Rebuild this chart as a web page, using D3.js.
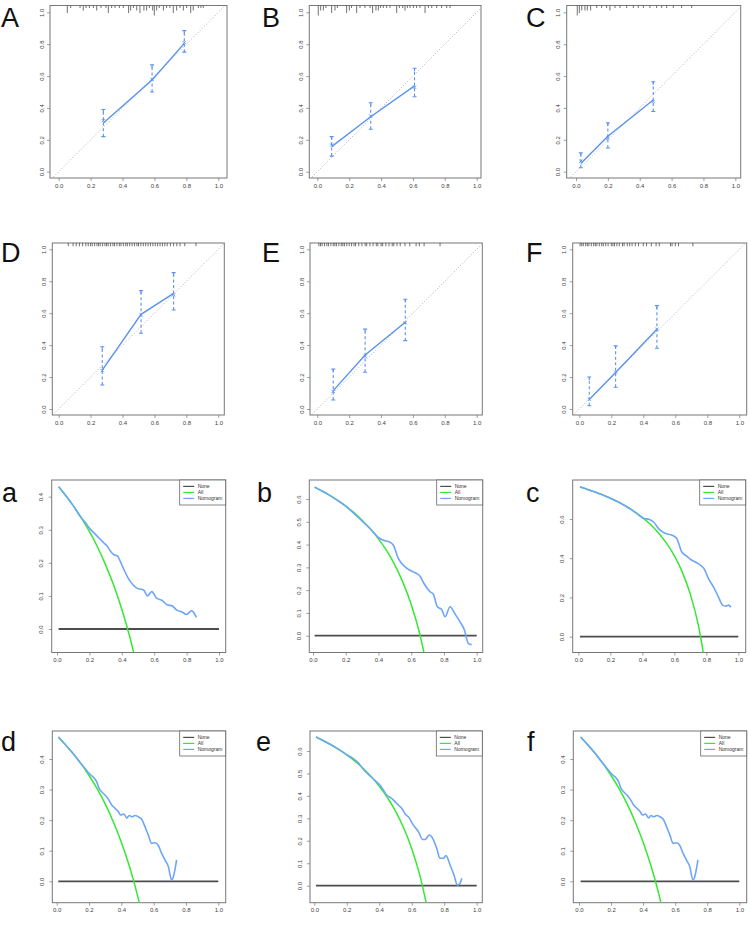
<!DOCTYPE html>
<html>
<head>
<meta charset="utf-8">
<script src="https://cdn.jsdelivr.net/npm/d3@7/dist/d3.min.js"></script>
<style>
body { margin: 0; background: #fff; }
svg { display: block; }
</style>
</head>
<body>
<svg id="chart" width="750" height="930"></svg>
<script>
// ---- tick labels ----
const xTicks = [0, 0.2, 0.4, 0.6, 0.8, 1.0];
const calTicks = [0, 0.2, 0.4, 0.6, 0.8, 1.0];
const dcaTicks4 = [0, 0.1, 0.2, 0.3, 0.4];
const dcaTicks6 = [0, 0.1, 0.2, 0.3, 0.4, 0.5, 0.6];
const dcaTicksC = [0, 0.2, 0.4, 0.6];
const legendLabels = ["None", "All", "Nomogram"];

// ---- calibration groups: [predicted, observed, bias-corrected, lower CI, upper CI] ----
const calA = [[0.28, 0.305, 0.32, 0.22, 0.39], [0.585, 0.575, 0.58, 0.50, 0.67], [0.787, 0.805, 0.81, 0.75, 0.885]];
const calB = [[0.09, 0.157, 0.167, 0.098, 0.22], [0.335, 0.345, 0.35, 0.266, 0.433], [0.61, 0.538, 0.53, 0.47, 0.649]];
const calC = [[0.03, 0.052, 0.066, 0.025, 0.118], [0.20, 0.222, 0.21, 0.149, 0.307], [0.485, 0.45, 0.44, 0.378, 0.564]];
const calD = [[0.273, 0.244, 0.24, 0.15, 0.39], [0.516, 0.593, 0.59, 0.474, 0.741], [0.72, 0.724, 0.715, 0.62, 0.854]];
const calE = [[0.10, 0.115, 0.11, 0.056, 0.25], [0.30, 0.338, 0.33, 0.23, 0.50], [0.552, 0.543, 0.54, 0.428, 0.687]];
const calF = [[0.0625, 0.06, 0.06, 0.02, 0.20], [0.227, 0.228, 0.23, 0.136, 0.395], [0.485, 0.499, 0.50, 0.38, 0.647]];

// ---- rug of predicted probabilities: [x, count] ----
const rugA = [[0.054,3],[0.075,1],[0.134,1],[0.154,2],[0.171,1],[0.192,1],[0.217,1],[0.238,2],[0.265,1],[0.296,1],
  [0.311,3],[0.332,1],[0.353,1],[0.38,1],[0.405,1],[0.438,3],[0.451,2],[0.468,1],[0.489,2],[0.509,3],[0.534,2],
  [0.551,2],[0.568,1],[0.589,2],[0.599,4],[0.614,2],[0.63,1],[0.656,2],[0.676,1],[0.697,1],[0.718,3],[0.739,2],
  [0.76,1],[0.781,2],[0.802,1],[0.827,3],[0.843,2],[0.875,1],[0.891,1],[0.906,1]];
const rugB = [[0.006,4],[0.021,2],[0.038,2],[0.054,1],[0.09,3],[0.111,2],[0.126,1],[0.184,3],[0.201,2],[0.215,1],
  [0.247,3],[0.268,1],[0.299,1],[0.331,1],[0.347,3],[0.368,2],[0.383,2],[0.397,1],[0.414,1],[0.435,1],[0.456,1],
  [0.498,3],[0.515,1],[0.536,1],[0.55,2],[0.565,1],[0.582,1],[0.603,1],[0.623,1],[0.644,1],[0.676,3],[0.697,1],
  [0.718,1],[0.749,1],[0.78,1],[0.812,1],[0.833,1]];
const rugC = [[0.008,4],[0.021,3],[0.036,2],[0.056,2],[0.071,2],[0.092,2],[0.13,1],[0.161,1],[0.192,1],[0.213,2],
  [0.245,1],[0.276,1],[0.318,1],[0.36,1],[0.391,1],[0.423,1],[0.464,1],[0.506,1],[0.538,1],[0.569,1],[0.611,1],
  [0.663,1],[0.726,1]];
const rugD = [0.06,0.09,0.11,0.13,0.15,0.17,0.185,0.2,0.21,0.225,0.24,0.25,0.26,0.275,0.29,0.3,0.31,0.325,0.34,0.35,
  0.365,0.38,0.39,0.405,0.42,0.43,0.445,0.46,0.475,0.49,0.5,0.515,0.53,0.545,0.56,0.575,0.59,0.605,0.62,0.635,0.65,
  0.665,0.68,0.7,0.72,0.74,0.76,0.79,0.86].map(v => [v, 1.3]);
const rugE = [0.01,0.02,0.03,0.045,0.06,0.07,0.085,0.1,0.11,0.12,0.135,0.15,0.16,0.17,0.185,0.2,0.215,0.23,0.24,0.26,
  0.28,0.3,0.31,0.33,0.35,0.37,0.38,0.4,0.41,0.43,0.45,0.47,0.48,0.5,0.52,0.55,0.58,0.62,0.64,0.67,0.77].map(v => [v, 1.3]);
const rugF = [0.005,0.015,0.025,0.04,0.05,0.06,0.075,0.09,0.1,0.11,0.125,0.14,0.15,0.165,0.18,0.2,0.21,0.22,0.235,
  0.25,0.27,0.28,0.3,0.315,0.33,0.35,0.37,0.4,0.42,0.45,0.48,0.5,0.57,0.58,0.6,0.62,0.71].map(v => [v, 1.3]);

// ---- decision curves: [threshold, net benefit] ----
const noneLine = [[0.01, 0], [1.0, 0]];

const dcaA_all = [[0.01,0.430],[0.05,0.406],[0.10,0.373],[0.15,0.336],[0.20,0.295],[0.25,0.248],[0.30,0.194],
  [0.35,0.132],[0.40,0.060],[0.45,-0.025],[0.50,-0.128]];
const dcaA_nom = [[0.01,0.430],[0.05,0.406],[0.10,0.373],[0.15,0.336],[0.17,0.325],[0.20,0.305],[0.23,0.29],
  [0.265,0.272],[0.29,0.26],[0.31,0.25],[0.335,0.232],[0.35,0.225],[0.375,0.22],[0.39,0.205],[0.41,0.183],
  [0.44,0.153],[0.47,0.133],[0.50,0.122],[0.535,0.118],[0.558,0.10],[0.585,0.113],[0.615,0.093],[0.65,0.086],
  [0.68,0.073],[0.71,0.07],[0.74,0.057],[0.77,0.052],[0.80,0.044],[0.83,0.055],[0.845,0.049],[0.86,0.035]];

const dcaB_all = [[0.01,0.652],[0.05,0.637],[0.10,0.617],[0.15,0.594],[0.20,0.569],[0.25,0.540],[0.30,0.507],
  [0.35,0.469],[0.40,0.425],[0.45,0.373],[0.50,0.310],[0.55,0.233],[0.60,0.137],[0.65,0.014],[0.70,-0.150]];
const dcaB_nom = [[0.01,0.652],[0.05,0.637],[0.10,0.617],[0.15,0.594],[0.20,0.569],[0.25,0.537],[0.30,0.503],
  [0.358,0.463],[0.399,0.431],[0.43,0.419],[0.47,0.41],[0.491,0.397],[0.521,0.339],[0.562,0.302],[0.613,0.28],
  [0.633,0.273],[0.654,0.261],[0.678,0.229],[0.715,0.193],[0.735,0.182],[0.76,0.127],[0.786,0.115],[0.807,0.083],
  [0.837,0.127],[0.868,0.095],[0.898,0.061],[0.925,0.025],[0.949,-0.034],[0.969,-0.04]];

const dcaC_all = [[0.01,0.763],[0.05,0.753],[0.10,0.739],[0.15,0.724],[0.20,0.706],[0.25,0.687],[0.30,0.664],
  [0.35,0.638],[0.40,0.608],[0.45,0.573],[0.50,0.530],[0.55,0.478],[0.60,0.413],[0.65,0.329],[0.70,0.217],
  [0.75,0.060],[0.80,-0.175]];
const dcaC_nom = [[0.01,0.763],[0.05,0.753],[0.10,0.739],[0.15,0.724],[0.20,0.706],[0.25,0.687],[0.30,0.664],
  [0.35,0.638],[0.41,0.603],[0.444,0.598],[0.469,0.586],[0.506,0.547],[0.542,0.527],[0.583,0.518],[0.615,0.501],
  [0.646,0.433],[0.677,0.411],[0.708,0.391],[0.74,0.377],[0.771,0.36],[0.785,0.348],[0.813,0.297],[0.844,0.255],
  [0.875,0.204],[0.902,0.161],[0.923,0.156],[0.938,0.161],[0.954,0.15]];

const dcaD_all = [[0.01,0.472],[0.05,0.449],[0.10,0.419],[0.15,0.385],[0.20,0.346],[0.25,0.303],[0.30,0.253],
  [0.35,0.195],[0.40,0.128],[0.45,0.049],[0.50,-0.046],[0.55,-0.162]];
const dcaD_nom = [[0.01,0.472],[0.05,0.449],[0.10,0.419],[0.15,0.385],[0.175,0.369],[0.206,0.35],[0.233,0.337],
  [0.247,0.326],[0.262,0.304],[0.278,0.293],[0.299,0.282],[0.32,0.268],[0.34,0.25],[0.361,0.239],[0.381,0.228],
  [0.396,0.217],[0.416,0.22],[0.433,0.207],[0.449,0.215],[0.464,0.211],[0.485,0.215],[0.505,0.211],[0.526,0.203],
  [0.546,0.179],[0.567,0.151],[0.588,0.124],[0.608,0.126],[0.629,0.117],[0.649,0.092],[0.67,0.07],[0.691,0.048],
  [0.711,0.004],[0.722,0.015],[0.742,0.07]];

const dcaE_all = [[0.01,0.663],[0.05,0.648],[0.10,0.629],[0.15,0.607],[0.20,0.583],[0.25,0.555],[0.30,0.523],
  [0.35,0.486],[0.40,0.443],[0.45,0.393],[0.50,0.332],[0.55,0.258],[0.60,0.165],[0.65,0.046],[0.70,-0.113]];
const dcaE_nom = [[0.01,0.663],[0.05,0.648],[0.10,0.629],[0.15,0.607],[0.20,0.583],[0.24,0.566],[0.27,0.548],
  [0.30,0.52],[0.35,0.484],[0.409,0.444],[0.446,0.404],[0.476,0.389],[0.507,0.367],[0.538,0.345],[0.565,0.315],
  [0.579,0.307],[0.61,0.27],[0.641,0.241],[0.667,0.206],[0.682,0.206],[0.708,0.226],[0.723,0.218],[0.754,0.166],
  [0.774,0.122],[0.795,0.122],[0.811,0.134],[0.836,0.092],[0.86,0.048],[0.881,0.003],[0.897,0.01],[0.908,0.033]];

// panel f shows the same curves as panel d
const dcaF_all = dcaD_all;
const dcaF_nom = dcaD_nom;

// ---- layout (pixel boxes, tick pixel positions) ----
const calPanels = [
  { id: "A", data: calA, rug: rugA, l: 50,    r: 227,   t: 5.5, b: 178, x0: 58.7,  x1: 218.3, y0: 171.7, y1: 12.3, lx: 1,   ly: 27 },
  { id: "B", data: calB, rug: rugB, l: 309.3, r: 481,   t: 5.5, b: 178, x0: 317.3, x1: 476.7, y0: 171.7, y1: 12.3, lx: 262, ly: 27 },
  { id: "C", data: calC, rug: rugC, l: 566.7, r: 740.7, t: 5.5, b: 178, x0: 576,   x1: 735.3, y0: 171.7, y1: 12.3, lx: 526, ly: 27 },
  { id: "D", data: calD, rug: rugD, l: 52.3,  r: 224.3, t: 243, b: 415, x0: 58.7,  x1: 218.3, y0: 409,   y1: 249.3, lx: 1,  ly: 262 },
  { id: "E", data: calE, rug: rugE, l: 310,   r: 482.3, t: 243, b: 415, x0: 317.3, x1: 476.7, y0: 409,   y1: 249.3, lx: 262, ly: 262 },
  { id: "F", data: calF, rug: rugF, l: 572.7, r: 746.7, t: 243, b: 415, x0: 579.3, x1: 739.3, y0: 409,   y1: 249.3, lx: 526, ly: 262 }
];
const dcaPanels = [
  { id: "a", all: dcaA_all, nom: dcaA_nom, ticks: dcaTicks4, ref: 0.4, l: 51.7,  r: 225.7, t: 480, b: 652.5, x0: 57,    x1: 219,   y0: 629,   yr: 496.7, lx: 2,   ly: 502 },
  { id: "b", all: dcaB_all, nom: dcaB_nom, ticks: dcaTicks6, ref: 0.6, l: 309.3, r: 482.7, t: 480, b: 652.5, x0: 313,   x1: 476.7, y0: 635.7, yr: 499,   lx: 257, ly: 502 },
  { id: "c", all: dcaC_all, nom: dcaC_nom, ticks: dcaTicksC, ref: 0.6, l: 572.7, r: 745.7, t: 480, b: 652.5, x0: 578.3, x1: 738.3, y0: 636.7, yr: 519,   lx: 526, ly: 502 },
  { id: "d", all: dcaD_all, nom: dcaD_nom, ticks: dcaTicks4, ref: 0.4, l: 52.3,  r: 225.7, t: 731, b: 902.7, x0: 56.7,  x1: 218.3, y0: 881.3, yr: 759,   lx: 1,   ly: 751 },
  { id: "e", all: dcaE_all, nom: dcaE_nom, ticks: dcaTicks6, ref: 0.6, l: 310,   r: 482.3, t: 731, b: 902.7, x0: 314.3, x1: 476.7, y0: 885.7, yr: 751,   lx: 256, ly: 751 },
  { id: "f", all: dcaF_all, nom: dcaF_nom, ticks: dcaTicks4, ref: 0.4, l: 573.3, r: 746.7, t: 731, b: 902.7, x0: 579,   x1: 739.3, y0: 881.3, yr: 759,   lx: 527, ly: 751 }
];

const FONT = "'Liberation Sans', Arial, Helvetica, sans-serif";
const calBlue = "#5a92f0";
const dcaBlue = "#6ea6f7";
const allGreen = "#35e835";
const noneGrey = "#4d4d4d";

const svg = d3.select("#chart");

function frame(p, x, y, yTicks, yLabelGap) {
  const g = svg.append("g");
  svg.append("clipPath").attr("id", "clip-" + p.id)
    .append("rect").attr("x", p.l).attr("y", p.t).attr("width", p.r - p.l).attr("height", p.b - p.t);

  const xa = g.append("g").attr("transform", "translate(0," + p.b + ")")
    .call(d3.axisBottom(x).tickValues(xTicks).tickFormat(d3.format(".1f")).tickSize(3).tickPadding(2.5));
  const ya = g.append("g").attr("transform", "translate(" + p.l + ",0)")
    .call(d3.axisLeft(y).tickValues(yTicks).tickFormat(d3.format(".1f")).tickSize(3));
  [xa, ya].forEach(function(a) {
    a.select(".domain").remove();
    a.selectAll("line").attr("stroke", "#777").attr("stroke-width", 0.7);
    a.selectAll("text").attr("fill", "#444").style("font-family", FONT).style("font-size", "6px");
  });
  ya.selectAll("text")
    .attr("transform", "rotate(-90)")
    .attr("x", 0).attr("y", -yLabelGap).attr("dy", 0)
    .attr("text-anchor", "middle");

  g.append("rect")
    .attr("x", p.l).attr("y", p.t).attr("width", p.r - p.l).attr("height", p.b - p.t)
    .attr("fill", "none").attr("stroke", "#777").attr("stroke-width", 1);

  g.append("text").text(p.id)
    .attr("x", p.lx).attr("y", p.ly)
    .style("font-family", FONT).style("font-size", "27px").attr("fill", "#111");
  return g;
}

// ---- calibration panels ----
calPanels.forEach(function(p) {
  const x = d3.scaleLinear().domain([0, 1]).range([p.x0, p.x1]);
  const y = d3.scaleLinear().domain([0, 1]).range([p.y0, p.y1]);
  const g = frame(p, x, y, calTicks, 6.5);
  const inner = g.append("g").attr("clip-path", "url(#clip-" + p.id + ")");

  // ideal line
  inner.append("line")
    .attr("x1", x(-0.1)).attr("y1", y(-0.1)).attr("x2", x(1.1)).attr("y2", y(1.1))
    .attr("stroke", "#999").attr("stroke-width", 0.8).attr("stroke-dasharray", "1,2");

  // rug spikes hanging from the top
  const rugLen = d3.scaleLinear().domain([0, 4]).range([0, 10]);
  inner.selectAll(".rug").data(p.rug).enter().append("line")
    .attr("x1", d => x(d[0])).attr("x2", d => x(d[0]))
    .attr("y1", p.t).attr("y2", d => p.t + rugLen(d[1]))
    .attr("stroke", "#333").attr("stroke-width", 0.7);

  // error bars
  inner.selectAll(".eb").data(p.data).enter().append("line")
    .attr("x1", d => x(d[0])).attr("x2", d => x(d[0]))
    .attr("y1", d => y(d[3])).attr("y2", d => y(d[4]))
    .attr("stroke", calBlue).attr("stroke-width", 1.1).attr("stroke-dasharray", "3,2.5");
  [3, 4].forEach(function(k) {
    inner.selectAll(".cap" + k).data(p.data).enter().append("line")
      .attr("x1", d => x(d[0]) - 2).attr("x2", d => x(d[0]) + 2)
      .attr("y1", d => y(d[k])).attr("y2", d => y(d[k]))
      .attr("stroke", calBlue).attr("stroke-width", 1.1);
  });
  // short solid stems under the top caps (T shape)
  inner.selectAll(".stem").data(p.data).enter().append("line")
    .attr("x1", d => x(d[0])).attr("x2", d => x(d[0]))
    .attr("y1", d => y(d[4])).attr("y2", d => y(d[4]) + 3)
    .attr("stroke", calBlue).attr("stroke-width", 1.1);

  // observed line
  inner.append("path").datum(p.data)
    .attr("d", d3.line().x(d => x(d[0])).y(d => y(d[1])))
    .attr("fill", "none").attr("stroke", calBlue).attr("stroke-width", 1.4);

  // bias-corrected marks
  inner.selectAll(".xm").data(p.data).enter().append("path")
    .attr("d", d => {
      const cx = x(d[0]), cy = y(d[2]);
      return "M" + (cx - 1.6) + "," + (cy - 1.6) + "L" + (cx + 1.6) + "," + (cy + 1.6) +
             "M" + (cx - 1.6) + "," + (cy + 1.6) + "L" + (cx + 1.6) + "," + (cy - 1.6);
    })
    .attr("stroke", calBlue).attr("stroke-width", 0.9);
});

// ---- decision curve panels ----
dcaPanels.forEach(function(p) {
  const x = d3.scaleLinear().domain([0, 1]).range([p.x0, p.x1]);
  const y = d3.scaleLinear().domain([0, p.ref]).range([p.y0, p.yr]);
  const g = frame(p, x, y, p.ticks, 8.5);
  const inner = g.append("g").attr("clip-path", "url(#clip-" + p.id + ")");
  const line = d3.line().x(d => x(d[0])).y(d => y(d[1])).curve(d3.curveMonotoneX);

  inner.append("path").datum(noneLine).attr("d", line)
    .attr("fill", "none").attr("stroke", noneGrey).attr("stroke-width", 1.8);
  inner.append("path").datum(p.all).attr("d", line)
    .attr("fill", "none").attr("stroke", allGreen).attr("stroke-width", 1.5);
  inner.append("path").datum(p.nom).attr("d", line)
    .attr("fill", "none").attr("stroke", dcaBlue).attr("stroke-width", 1.6);

  // legend
  const lw = 46, lh = 25;
  const lg = g.append("g").attr("transform", "translate(" + (p.r - lw) + "," + p.t + ")");
  lg.append("rect").attr("width", lw).attr("height", lh)
    .attr("fill", "#fff").attr("stroke", "#666").attr("stroke-width", 0.8);
  const colors = [noneGrey, allGreen, dcaBlue];
  legendLabels.forEach(function(name, i) {
    lg.append("line").attr("x1", 3.5).attr("x2", 14.5)
      .attr("y1", 6.4 + i * 6).attr("y2", 6.4 + i * 6)
      .attr("stroke", colors[i]).attr("stroke-width", 1.2);
    lg.append("text").text(name).attr("x", 18).attr("y", 8.2 + i * 6)
      .style("font-family", FONT).style("font-size", "5px").attr("fill", "#333");
  });
});
</script>
</body>
</html>
